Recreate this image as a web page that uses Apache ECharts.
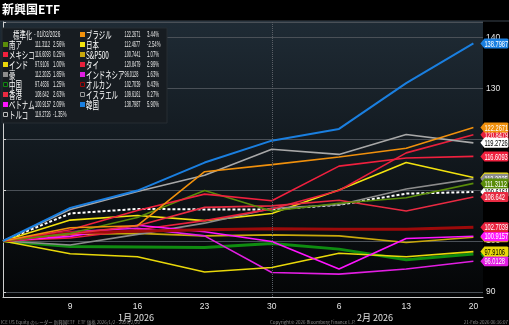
<!DOCTYPE html>
<html><head><meta charset="utf-8">
<script src="https://cdn.jsdelivr.net/npm/echarts@6/dist/echarts.min.js"></script>
<style>html,body{margin:0;padding:0;background:#000;}#c{width:509px;height:325px;}</style>
</head><body><div id="c"></div>
<script>
// ---- data ----
const dates = ['2026-01-02','2026-01-09','2026-01-16','2026-01-23','2026-01-30','2026-02-06','2026-02-13','2026-02-20'];
const tickLabels = ['', '9', '16', '23', '30', '6', '13', '20'];
const monthLabels = ['1月 2026', '2月 2026'];
const korea       = [100, 106.5, 109.9, 115.4, 119.7, 122.0, 131.0, 138.7987];
const turkey      = [100, 106.2, 109.7, 112.9, 118.0, 117.0, 120.9, 119.2726];
const brazil      = [100, 102.6, 103.0, 113.6, 115.0, 116.5, 118.2, 122.2671];
const thailand    = [100, 100.6, 102.2, 104.0, 106.3, 109.9, 117.3, 120.8479];
const mexico      = [100, 102.2, 106.0, 109.2, 107.9, 114.7, 116.3, 116.6093];
const japan       = [100, 104.1, 105.0, 104.0, 105.4, 110.0, 115.4, 112.4677];
const australia   = [100, 99.2, 101.3, 103.5, 106.4, 107.1, 110.2, 112.2025];
const southAfrica = [100, 101.5, 104.6, 109.9, 105.9, 107.4, 108.5, 111.3112];
const israel      = [100, 105.4, 106.3, 106.2, 106.2, 107.1, 109.3, 109.6161];
const hongKong    = [100, 101.4, 103.0, 106.6, 106.9, 108.0, 105.9, 108.642];
const acwi        = [100, 101.6, 101.9, 102.2, 102.4, 102.3, 102.3, 102.7039];
const sp500       = [100, 101.3, 101.5, 101.0, 101.2, 101.0, 99.7, 100.7441];
const vietnam     = [100, 100.9, 103.1, 101.8, 99.9, 94.5, 100.5, 100.9157];
const indonesia   = [100, 101.8, 102.5, 101.0, 93.8, 93.5, 94.5, 96.0128];
const china       = [100, 98.9, 98.8, 98.7, 99.5, 98.4, 96.3, 97.4636];
const india       = [100, 97.5, 96.9, 93.9, 94.8, 97.6, 96.9, 97.9106];
const weeklyPct = {'南ア':2.56,'メキシコ':0.25,'インド':1.00,'豪':1.85,'中国':1.25,'香港':2.63,'ベトナム':2.09,'トルコ':-1.35,
  'ブラジル':3.44,'日本':-2.54,'S&P500':1.07,'タイ':2.99,'インドネシア':1.63,'オルカン':0.43,'イスラエル':0.27,'韓国':5.90};
const legendLeft  = ['南ア','メキシコ','インド','豪','中国','香港','ベトナム','トルコ'];
const legendRight = ['ブラジル','日本','S&P500','タイ','インドネシア','オルカン','イスラエル','韓国'];

// ---- styles (drawing order: first = bottom) ----
const seriesDefs = [
  {name:'イスラエル', data:israel, color:'#ffffff', w:2, dash:[3,2], tagText:'#000', hollow:'#9a9a9a'},
  {name:'S&P500', data:sp500, color:'#c9a80c', w:1.6},
  {name:'中国', data:china, color:'#0f8c10', w:3, hollow:'#0f8c10'},
  {name:'日本', data:japan, color:'#f2e20f', w:1.6, tagText:'#000'},
  {name:'豪', data:australia, color:'#8c8c8c', w:1.6},
  {name:'タイ', data:thailand, color:'#e8203c', w:1.6},
  {name:'インドネシア', data:indonesia, color:'#e21ee2', w:1.6},
  {name:'インド', data:india, color:'#e9d80a', w:1.6, tagText:'#000'},
  {name:'ベトナム', data:vietnam, color:'#ff14ff', w:1.6},
  {name:'オルカン', data:acwi, color:'#9c0a0a', w:3, tagBg:'#e8203c', hollow:'#9c0a0a'},
  {name:'香港', data:hongKong, color:'#e82a42', w:1.6},
  {name:'南ア', data:southAfrica, color:'#5a8c0a', w:1.6},
  {name:'メキシコ', data:mexico, color:'#f0203e', w:1.6},
  {name:'トルコ', data:turkey, color:'#a8a8a8', w:1.6, tagBg:'#ffffff', tagText:'#000', hollow:'#bbbbbb'},
  {name:'ブラジル', data:brazil, color:'#f0900c', w:1.6},
  {name:'韓国', data:korea, color:'#1a7fe0', w:2}
];

const t0 = Date.parse(dates[0]);
const dayIdx = dates.map(d => Math.round((Date.parse(d) - t0) / 86400000));
const lastI = dates.length - 1;
const byName = {};
seriesDefs.forEach(s => byName[s.name] = s);

const series = seriesDefs.map((s, k) => {
  const o = {
    type:'line', name:s.name, showSymbol:false, symbol:'none', animation:false,
    data: s.data.map((v, i) => [dayIdx[i], v]),
    lineStyle:{color:s.color, width:s.w, type: s.dash || 'solid'},
    itemStyle:{color:s.color},
    emphasis:{disabled:true}, z:2
  };
  if (k === 0) {
    o.markLine = {silent:true, symbol:'none', label:{show:false},
      lineStyle:{type:'dotted', color:'#5a5f66', width:1},
      data:[{xAxis: dayIdx[4]}]};
  }
  return o;
});

// value tags at the right end of each line (custom series positioned through the axes)
series.push({
  type:'custom', name:'tags', z:10, clip:false, silent:true, animation:false,
  data: seriesDefs.map((s, i) => [dayIdx[lastI], s.data[lastI], i]),
  encode:{x:0, y:1},
  renderItem: (params, api) => {
    const p = api.coord([api.value(0), api.value(1)]);
    const s = seriesDefs[api.value(2)];
    const bg = s.tagBg || s.color;
    const x0 = p[0] + 7, y = p[1];
    return {type:'group', children:[
      {type:'polygon', shape:{points:[[x0, y], [x0 + 4, y - 5], [x0 + 27, y - 5], [x0 + 28, y - 4], [x0 + 28, y + 4], [x0 + 27, y + 5], [x0 + 4, y + 5]]},
        style:{fill:bg}},
      {type:'text', x:x0 + 4, y:y + 0.5, scaleX:0.6,
        style:{text:String(api.value(1)), fill:s.tagText || '#fff', font:'9.5px "Liberation Sans", Arial, sans-serif', verticalAlign:'middle'}}
    ]};
  }
});

// ---- legend graphics ----
const g = [];
g.push({type:'rect', z:-20, shape:{x:0,y:0,width:509,height:325}, style:{fill:'#000'}});
g.push({type:'rect', z:-19, shape:{x:0,y:21,width:483,height:276},
  style:{fill:new echarts.graphic.LinearGradient(0,0,0,1,[{offset:0,color:'#1f2b35'},{offset:0.55,color:'#10161b'},{offset:1,color:'#040506'}])}});
g.push({type:'line', z:-18, shape:{x1:0,y1:21,x2:509,y2:21}, style:{stroke:'#3a444e', lineWidth:1}});
g.push({type:'text', z:50, x:2, y:3, style:{text:'新興国ETF', fill:'#fff', font:'bold 12px "Noto Sans CJK JP"'}});
g.push({type:'rect', z:40, shape:{x:2,y:28,width:165,height:95}, style:{fill:'#171c21', stroke:'#262c32', lineWidth:1}});
const nameFont = '10px "Noto Sans CJK JP"';
const numFont = '8.5px "Liberation Sans", Arial, sans-serif';
function legendRow(name, colX, y) {
  const s = byName[name];
  const last = s.data[s.data.length - 1];
  const pct = weeklyPct[name];
  if (s.hollow) {
    g.push({type:'rect', z:41, shape:{x:colX+0.5,y:y-2.5,width:4,height:4}, style:{fill:'none', stroke:s.hollow, lineWidth:1}});
  } else {
    g.push({type:'rect', z:41, shape:{x:colX,y:y-3,width:5,height:5}, style:{fill:s.color}});
  }
  g.push({type:'text', z:41, x:colX+6, y:y, scaleX:0.64, style:{text:name, fill:'#fff', font:nameFont, verticalAlign:'middle'}});
  const vx = colX < 50 ? 35 : 124.5;
  const px = colX < 50 ? 53 : 147;
  g.push({type:'text', z:41, x:vx, y:y, scaleX:0.45, style:{text:String(last), fill:'#e6e6e6', font:numFont, verticalAlign:'middle'}});
  g.push({type:'text', z:41, x:px, y:y, scaleX:0.5, style:{text:pct.toFixed(2)+'%', fill:'#e6e6e6', font:numFont, verticalAlign:'middle'}});
}
g.push({type:'text', z:41, x:13, y:35, scaleX:0.64, style:{text:'標準化', fill:'#fff', font:nameFont, verticalAlign:'middle'}});
g.push({type:'text', z:41, x:34, y:35, scaleX:0.55, style:{text:'- 01/02/2026', fill:'#e6e6e6', font:numFont, verticalAlign:'middle'}});
legendLeft.forEach((n, i) => legendRow(n, 3, 45 + i * 10));
legendRight.forEach((n, i) => legendRow(n, 80, 35 + i * 10));
// month labels + footer
g.push({type:'text', z:41, x:136, y:318, style:{text:monthLabels[0], fill:'#e0e0e0', font:'9px "Noto Sans CJK JP"', align:'center', verticalAlign:'middle'}});
g.push({type:'text', z:41, x:375, y:318, style:{text:monthLabels[1], fill:'#e0e0e0', font:'9px "Noto Sans CJK JP"', align:'center', verticalAlign:'middle'}});
const footFont = '4.5px "Noto Sans CJK JP"';
g.push({type:'text', z:41, x:1, y:322, style:{text:'ICE US Equity のレーダー 新興国ETF   ETF 価格 2026/1/2 - 2026/2/20', fill:'#8a8a8a', font:footFont, verticalAlign:'middle'}});
g.push({type:'text', z:41, x:270, y:322, style:{text:'Copyright© 2026 Bloomberg Finance L.P.', fill:'#8a8a8a', font:footFont, verticalAlign:'middle'}});
g.push({type:'text', z:41, x:508, y:322, style:{text:'21-Feb-2026 06:16:07', fill:'#8a8a8a', font:footFont, align:'right', verticalAlign:'middle'}});

const chart = echarts.init(document.getElementById('c'), null, {renderer:'canvas'});
chart.setOption({
  animation:false,
  backgroundColor:'transparent',
  grid:{left:0, right:26, top:22, bottom:28},
  xAxis:{type:'value', min:0, max:50, interval:7,
    axisLine:{show:true, lineStyle:{color:'#cfcfcf', width:1}},
    axisTick:{show:false}, splitLine:{show:false},
    axisLabel:{color:'#e6e6e6', fontSize:8.5, margin:5, fontFamily:'"Liberation Sans", Arial, sans-serif',
      formatter: v => { const i = dayIdx.indexOf(v); return i >= 0 ? tickLabels[i] : ''; }}
  },
  yAxis:{type:'value', position:'right', min:89, max:143,
    axisLine:{show:true, lineStyle:{color:'#cfcfcf', width:1}},
    axisTick:{show:true, length:3, lineStyle:{color:'#cfcfcf'}},
    splitLine:{show:true, lineStyle:{color:'#4a5057', width:1}},
    axisLabel:{color:'#e6e6e6', fontSize:8.5, margin:3, fontFamily:'"Liberation Sans Narrow", "Liberation Sans", sans-serif',
      formatter: v => (v % 10 === 0 ? String(v) : '')}
  },
  graphic: g,
  series: series
});
</script></body></html>
